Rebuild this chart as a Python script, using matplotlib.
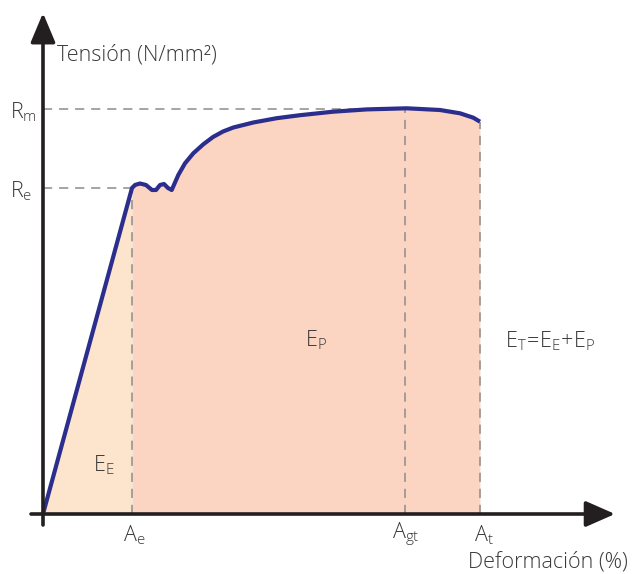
import matplotlib.pyplot as plt
import numpy as np

plt.rcParams['font.family'] = ['Open Sans', 'DejaVu Sans']
plt.rcParams['mathtext.fontset'] = 'custom'
plt.rcParams['mathtext.rm'] = 'Open Sans:light'
plt.rcParams['mathtext.it'] = 'Open Sans:light'

# stress-strain curve (arbitrary units)
strain = [0, 89, 92, 97, 103, 109, 113, 117, 121, 125, 128.7, 135.3, 142, 150.3,
          160.3, 170, 180, 190.3, 210.3, 233.7, 257, 290, 323.7, 363.7, 397, 417,
          430.3, 437]
stress = [0, 326, 329, 330.5, 329, 324, 324, 329, 330, 326, 324, 339, 350.7, 360.7,
          369.7, 377, 382.5, 386.5, 391.5, 395.8, 398.8, 402.3, 404.6, 405.7, 404,
          400.7, 396.3, 392.3]

Re, Rm = 326, 405
Ae, Agt, At = 89, 362, 437

txt = '#3a3a3a'
curve_col = '#2b2e8c'

fig = plt.figure(figsize=(6.32, 5.74), dpi=100)
ax = fig.add_axes([0, 0, 1, 1])
ax.set_xlim(-43, 589)
ax.set_ylim(-60, 514)
ax.axis('off')

# filled energy areas
ax.fill_between(strain[:2], stress[:2], 0, color='#fde5cd', lw=0)
ax.fill_between(strain[1:], stress[1:], 0, color='#fcd4c2', lw=0)

# dashed guide lines
dash = dict(color='#8c8c8c', lw=1.1, dashes=(6, 4.5))
ax.plot([0, Ae], [Re, Re], **dash)
ax.plot([0, Agt], [Rm, Rm], **dash)
ax.plot([Ae, Ae], [0, Re], **dash)
ax.plot([Agt, Agt], [0, Rm], **dash)
ax.plot([At, At], [0, stress[-1]], **dash)

# axes with arrows
ax.annotate('', xy=(572, 0), xytext=(-12, 0),
            arrowprops=dict(arrowstyle='-|>,head_length=1.0,head_width=0.44',
                            mutation_scale=18, lw=2.6, color='#231f20',
                            shrinkA=0, shrinkB=0))
ax.annotate('', xy=(0, 501), xytext=(0, -11),
            arrowprops=dict(arrowstyle='-|>,head_length=1.0,head_width=0.42',
                            mutation_scale=18, lw=2.6, color='#231f20',
                            shrinkA=0, shrinkB=0))

# curve
ax.plot(strain, stress, color=curve_col, lw=3.0, solid_joinstyle='round',
        solid_capstyle='butt')

fs = 15.5
ax.text(14, 459, 'Tensión (N/mm²)', fontsize=fs, color=txt, fontweight='light',
        ha='left', va='center')
ax.text(585, -48, 'Deformación (%)', fontsize=fs, color=txt, fontweight='light',
        ha='right', va='center')

ax.text(-33, Rm - 3, r'$\mathrm{R_m}$', fontsize=fs, color=txt, ha='left', va='center')
ax.text(-33, Re - 3, r'$\mathrm{R_e}$', fontsize=fs, color=txt, ha='left', va='center')
ax.text(80, -21, r'$\mathrm{A_e}$', fontsize=fs, color=txt, ha='left', va='center')
ax.text(349, -21, r'$\mathrm{A_{gt}}$', fontsize=fs, color=txt, ha='left', va='center')
ax.text(431, -21, r'$\mathrm{A_t}$', fontsize=fs, color=txt, ha='left', va='center')
ax.text(50, 49, r'$\mathrm{E_E}$', fontsize=fs, color=txt, ha='left', va='center')
ax.text(262, 174, r'$\mathrm{E_P}$', fontsize=fs, color=txt, ha='left', va='center')
ax.text(462, 173, r'$\mathrm{E_T\!=\!E_E\!+\!E_P}$', fontsize=fs, color=txt,
        ha='left', va='center')

fig.savefig('out.png', dpi=100)
